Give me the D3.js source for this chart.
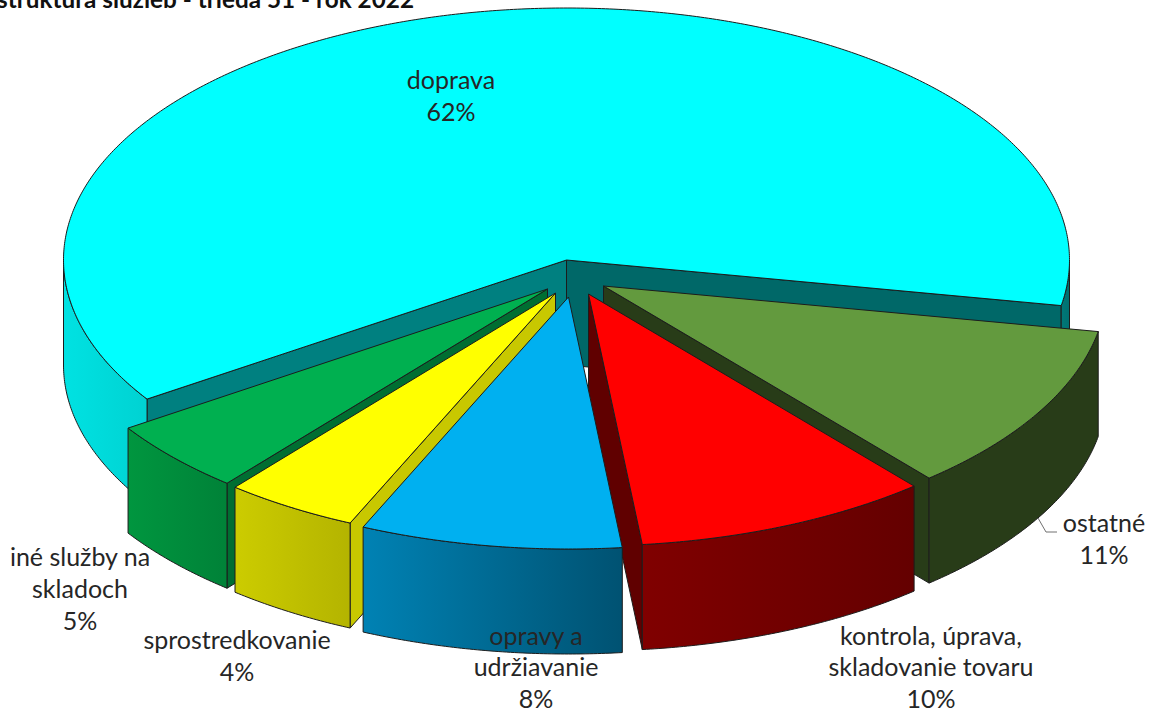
<!DOCTYPE html>
<html><head><meta charset="utf-8">
<script src="https://cdn.jsdelivr.net/npm/d3@7"></script>
<style>html,body{margin:0;padding:0;background:#fff;overflow:hidden}svg{display:block}text{font-family:Lato,"Liberation Sans",sans-serif}</style>
</head><body><div id="c"></div>
<script>
const titleText = "štruktúra služieb - trieda 51 - rok 2022";
const categories = ["doprava","ostatné","kontrola, úprava, skladovanie tovaru","opravy a udržiavanie","sprostredkovanie","iné služby na skladoch"];
const values = [62.2,10.9,9.5,8.4,4.3,4.7];

// layout (separate from the data)
const W=1150,H=713, cx=566.5, cy=260, rx=503, ry=252, depth=105;
const apexShift=[[0,0],[37,26],[22,34],[2,37],[-11,33],[-19,29]];
const topCol=["#00FFFF","#639A3E","#FF0000","#00B0F0","#FFFF00","#00B050"];
const sideCol=[["#00E2E2","#00D2D2"],["#283C18","#283C18"],["#800000","#640000"],["#0082B4","#005272"],["#CCCC00","#B4B400"],["#00963F","#008238"]];
const startWall=["#008080",null,null,null,"#C8C800","#006E32"];
const endWall=["#006868","#283C18","#600000",null,null,null];
const paintOrder=[0,1,5,4,2,3];
const labelLines=[["doprava","62%"],["ostatné","11%"],["kontrola, úprava,","skladovanie tovaru","10%"],["opravy a","udržiavanie","8%"],["sprostredkovanie","4%"],["iné služby na","skladoch","5%"]];
const labelPos=[[451,80],[1104,523],[931,636],[536,636],[237,640],[80,557]];
const labelGaps=[32,32,31.5,31.5,32,32];

const svg=d3.select("#c").append("svg").attr("width",W).attr("height",H);
const defs=svg.append("defs");
const pie=d3.pie().sort(null).startAngle(-123.5*Math.PI/180).endAngle(236.5*Math.PI/180);
const arcs=pie(values);
const line=d3.line();

function pt(i,a,dz){const s=apexShift[i];return [cx+s[0]+rx*Math.sin(a),cy+s[1]-ry*Math.cos(a)+(dz||0)];}
function apex(i,dz){const s=apexShift[i];return [cx+s[0],cy+s[1]+(dz||0)];}
function arcPts(i,a0,a1,dz){const n=Math.max(2,Math.ceil(Math.abs(a1-a0)*120));return d3.range(n+1).map(k=>pt(i,a0+(a1-a0)*k/n,dz));}
function frontRanges(a0,a1){const p=Math.PI,out=[];[[p/2,3*p/2],[-3*p/2,-p/2]].forEach(w=>{const l=Math.max(a0,w[0]),h=Math.min(a1,w[1]);if(h>l)out.push([l,h]);});return out;}

const g=svg.append("g").attr("stroke","#1c1c1c").attr("stroke-width",1).attr("stroke-linejoin","round");
const wallPath=(i,a)=>line([apex(i),pt(i,a),pt(i,a,depth),apex(i,depth)])+"Z";

paintOrder.forEach(i=>{
  const d=arcs[i];
  const grp=g.append("g");
  if(startWall[i]) grp.append("path").attr("d",wallPath(i,d.startAngle)).attr("fill",startWall[i]);
  if(endWall[i]) grp.append("path").attr("d",wallPath(i,d.endAngle)).attr("fill",endWall[i]);
  frontRanges(d.startAngle,d.endAngle).forEach((r,k)=>{
    const id="side"+i+"_"+k;
    const lg=defs.append("linearGradient").attr("id",id);
    const cols=(i===0&&r[0]>0)?["#007878","#007070"]:sideCol[i];
    lg.append("stop").attr("offset",0).attr("stop-color",cols[0]);
    lg.append("stop").attr("offset",1).attr("stop-color",cols[1]);
    const pts=arcPts(i,r[0],r[1],0).concat(arcPts(i,r[1],r[0],depth));
    grp.append("path").attr("d",line(pts)+"Z").attr("fill",`url(#${id})`);
  });
  const topPts=[apex(i)].concat(arcPts(i,d.startAngle,d.endAngle,0));
  grp.append("path").attr("d",line(topPts)+"Z").attr("fill",topCol[i]);
});

// leader line of the "ostatné" label
svg.append("polyline").attr("points","1038,518 1046,532 1057,532").attr("fill","none").attr("stroke","#707070").attr("stroke-width",1);

labelLines.forEach((ls,i)=>{
  ls.forEach((t,k)=>{
    svg.append("text").attr("x",labelPos[i][0]).attr("y",labelPos[i][1]+k*labelGaps[i])
      .attr("dy","0.35em").attr("text-anchor","middle").attr("font-size",25).attr("fill","#262626").text(t);
  });
});
svg.append("text").attr("x",-3).attr("y",8).attr("font-size",24.3).attr("font-weight",700).attr("fill","#111").text(titleText);
</script></body></html>
